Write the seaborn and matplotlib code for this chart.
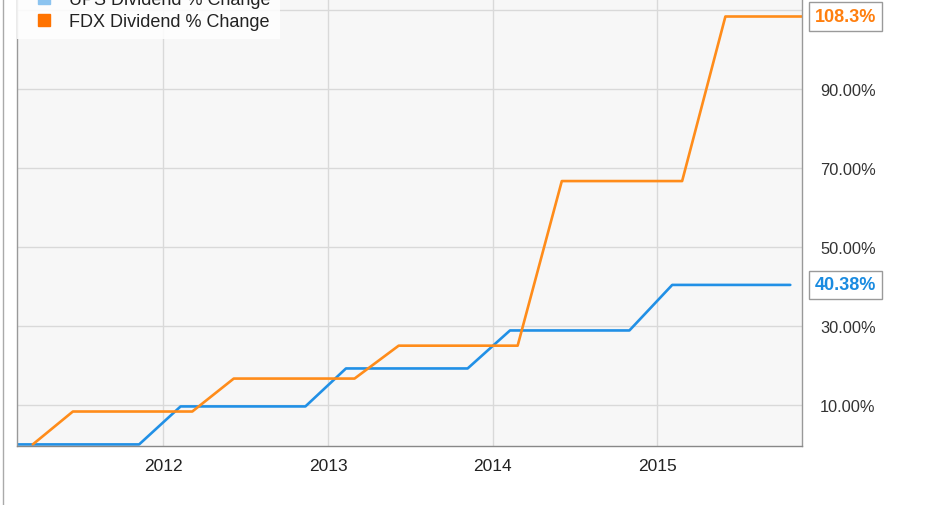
"""Recreates the UPS vs FDX dividend % change step chart."""

import pandas as pd
import matplotlib
matplotlib.use("Agg")
import matplotlib.pyplot as plt
import matplotlib.dates as mdates
from matplotlib.lines import Line2D
import seaborn as sns

# UPS dividend % change (quarterly ex-dividend dates)
ups_dates = ["2011-02-10", "2011-05-12", "2011-08-10", "2011-11-08",
             "2012-02-08", "2012-05-10", "2012-08-08", "2012-11-11",
             "2013-02-09", "2013-05-09", "2013-08-08", "2013-11-06",
             "2014-02-08", "2014-05-08", "2014-08-07", "2014-10-31",
             "2015-02-03", "2015-05-07", "2015-08-06", "2015-10-23"]
ups_values = [0, 0, 0, 0,
              9.62, 9.62, 9.62, 9.62,
              19.23, 19.23, 19.23, 19.23,
              28.85, 28.85, 28.85, 28.85,
              40.38, 40.38, 40.38, 40.38]

# FDX dividend % change
fdx_dates = ["2011-03-17", "2011-06-14", "2011-09-08", "2011-12-08",
             "2012-03-05", "2012-06-05", "2012-09-06", "2012-12-06",
             "2013-02-28", "2013-06-06", "2013-09-05", "2013-12-05",
             "2014-02-25", "2014-06-03", "2014-09-04", "2014-12-04",
             "2015-02-25", "2015-06-01", "2015-09-03", "2015-11-18"]
fdx_values = [0, 8.33, 8.33, 8.33,
              8.33, 16.67, 16.67, 16.67,
              16.67, 25.0, 25.0, 25.0,
              25.0, 66.67, 66.67, 66.67,
              66.67, 108.33, 108.33, 108.33]

series_names = ["UPS Dividend % Change", "FDX Dividend % Change"]
y_ticks = [10, 30, 50, 70, 90, 110]
y_tick_labels = ["10.00%", "30.00%", "50.00%", "70.00%", "90.00%", ""]

line_colors = ["#2190e6", "#ff8c1a"]
label_colors = ["#1a8be0", "#ff7f0e"]
legend_colors = ["#8cc4f0", "#ff7300"]

df = pd.concat([
    pd.DataFrame({"date": pd.to_datetime(ups_dates), "value": ups_values,
                  "series": series_names[0]}),
    pd.DataFrame({"date": pd.to_datetime(fdx_dates), "value": fdx_values,
                  "series": series_names[1]}),
])

sns.set_style("white")
plt.rcParams["font.family"] = ["Liberation Sans", "DejaVu Sans"]

W, H = 931, 506
fig = plt.figure(figsize=(W / 100, H / 100), dpi=100)
ax = fig.add_axes([17 / W, 59 / H, 785 / W, 459.8 / H])
ax.set_facecolor("#f7f7f7")

sns.lineplot(data=df, x="date", y="value", hue="series",
             palette=dict(zip(series_names, line_colors)),
             linewidth=1.9, legend=False, ax=ax)

ax.set_xlim(df["date"].min(), df["date"].max())
ax.set_ylim(-0.4, 116)
ax.set_xlabel("")
ax.set_ylabel("")

ax.xaxis.set_major_locator(mdates.YearLocator())
ax.xaxis.set_major_formatter(mdates.DateFormatter("%Y"))
ax.set_yticks(y_ticks)
ax.set_yticklabels(y_tick_labels)
ax.yaxis.tick_right()
ax.tick_params(axis="y", length=0, pad=13, labelsize=11.8, labelcolor="#333333")
ax.tick_params(axis="x", length=0, pad=9, labelsize=12.5, labelcolor="#222222")

ax.grid(True, color="#d9d9d9", linewidth=1)
for side in ["left", "right", "bottom"]:
    ax.spines[side].set_color("#999999")
    ax.spines[side].set_linewidth(1)
ax.spines["bottom"].set_color("#888888")
ax.spines["top"].set_visible(False)

# end-value callouts on the right edge
for vals, col in [(ups_values, label_colors[0]), (fdx_values, label_colors[1])]:
    last = vals[-1]
    ax.annotate(f"{last:.4g}%", xy=(1, last), xycoords=ax.get_yaxis_transform(),
                xytext=(13, 0), textcoords="offset pixels",
                ha="left", va="center", fontsize=13, fontweight="bold",
                color=col, annotation_clip=False,
                bbox=dict(boxstyle="square,pad=0.32", fc="white",
                          ec="#9a9a9a", lw=1))

handles = [Line2D([], [], marker="s", linestyle="none", markersize=9,
                  color=c) for c in legend_colors]
fig.legend(handles, series_names, loc="lower left",
           bbox_to_anchor=(17 / W, (H - 40) / H), borderaxespad=0,
           fontsize=13, labelspacing=0.25, handletextpad=0.4,
           borderpad=0.5, frameon=True, facecolor="white",
           edgecolor="none", framealpha=0.85, fancybox=False,
           labelcolor="#222222")

# outer left border of the widget
fig.add_artist(Line2D([2.5 / W, 2.5 / W], [0, 1], transform=fig.transFigure,
                      color="#aaaaaa", linewidth=1))

fig.savefig("out.png", dpi=100)
